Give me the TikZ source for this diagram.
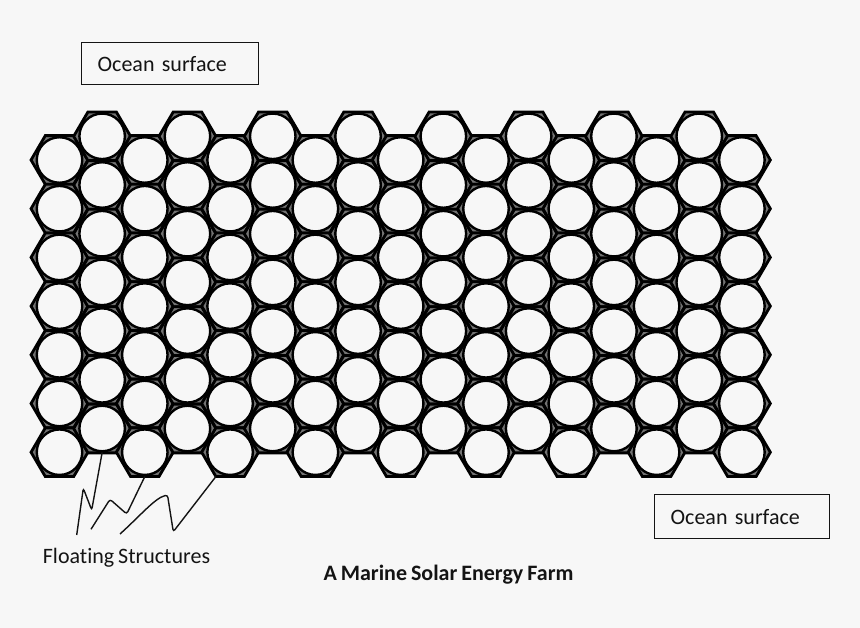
\documentclass[tikz,border=0pt]{standalone}
\usepackage{fontspec}
\setmainfont[Ligatures=NoCommon,WordSpace=0.8]{Carlito}
\definecolor{bgcol}{RGB}{247,247,247}
\definecolor{inkcol}{RGB}{20,20,20}
\begin{document}
\begin{tikzpicture}[x=1pt,y=-1pt,
  hexline/.style={line width=2.8pt, line join=miter, draw=black, fill=black!55},
  cell/.style={circle, draw=black, fill=bgcol, line width=2.4pt, minimum size=45.5pt, inner sep=0pt},
  wire/.style={line width=1.4pt, draw=inkcol, rounded corners=2.5pt},
  labelbox/.style={draw=inkcol, line width=1.3pt, anchor=north west, inner xsep=16pt, inner ysep=0pt, align=left, font=\fontsize{22}{26}\selectfont, text=inkcol},
  caption/.style={font=\fontsize{22}{26}\selectfont, text=inkcol, inner sep=0pt}]
\fill[bgcol] (0,0) rectangle (860,628);
\useasboundingbox (0,0) rectangle (860,628);
\foreach \c in {0,...,16}{
  \pgfmathsetmacro\cx{59.5+42.65*\c}
  \pgfmathsetmacro\cy{ifthenelse(mod(\c,2)==0,160,136.3)}
  \foreach \r in {0,...,6}{
    \pgfmathsetmacro\yy{\cy+48.7*\r}
    \draw[hexline] (\cx-28.45,\yy) -- (\cx-14.2,\yy-24.35) -- (\cx+14.2,\yy-24.35)
      -- (\cx+28.45,\yy) -- (\cx+14.2,\yy+24.35) -- (\cx-14.2,\yy+24.35) -- cycle;
    \coordinate (hb-\c-\r) at (\cx,\yy+24.35);
    \coordinate (hl-\c-\r) at (\cx-14.2,\yy+24.35);
    \node[cell] (c-\c-\r) at (\cx,\yy) {};
  }
}
% label boxes
\node[labelbox, minimum width=177pt, minimum height=42pt, text width=145pt] (top) at (81,42) {Ocean surface};
\node[labelbox, minimum width=175pt, minimum height=44pt, text width=143pt] (bot) at (654,494) {Ocean surface};
% captions
\node[caption] (fs) at (126.5,558) {Floating Structures};
\node[caption, font=\fontsize{22}{26}\selectfont\bfseries] (title) at (448.5,575) {A Marine Solar Energy Farm};
% floating-structure pointers
\coordinate (e1) at (76.7,535);
\coordinate (e2) at (91,529.3);
\coordinate (e3) at (120,534);
\draw[wire] (e1) -- (83.3,488.3) -- (91.7,510) -- (c-1-6.south);
\draw[wire] (e2) -- (110,499.3) -- (126.7,514) -- (hb-2-6);
\draw[wire] (e3) .. controls (140,516) and (155,498) .. (167.5,495) -- (173.3,531.7) -- (hl-4-6);
\end{tikzpicture}
\end{document}
